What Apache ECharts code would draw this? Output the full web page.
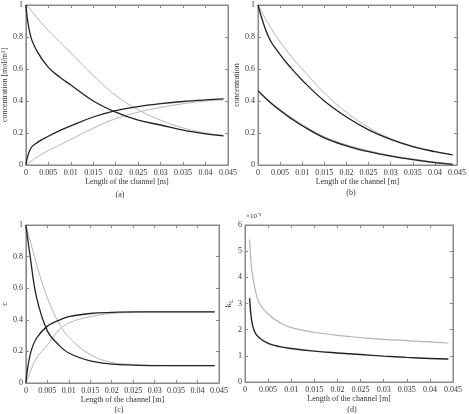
<!DOCTYPE html>
<html>
<head>
<meta charset="utf-8">
<script src="https://cdn.jsdelivr.net/npm/echarts@6/dist/echarts.min.js"></script>
<style>
  html, body { margin: 0; padding: 0; background: #fff; }
  #chart { width: 469px; height: 414px; }
</style>
</head>
<body>
<div id="chart"></div>
<script>
// (a) concentrations along the channel
var xA = [0, 0.001, 0.0025, 0.005, 0.0075, 0.01, 0.015, 0.02, 0.025, 0.03, 0.035, 0.04, 0.044];
var aDarkDec = [1, 0.81, 0.71, 0.61, 0.55, 0.50, 0.40, 0.33, 0.28, 0.25, 0.218, 0.195, 0.182];
var aLightDec = [1, 0.97, 0.92, 0.84, 0.77, 0.70, 0.56, 0.435, 0.345, 0.28, 0.232, 0.2, 0.186];
var aDarkInc = [0, 0.10, 0.14, 0.18, 0.215, 0.245, 0.30, 0.34, 0.365, 0.383, 0.397, 0.407, 0.413];
var aLightInc = [0, 0.02, 0.05, 0.09, 0.125, 0.16, 0.23, 0.29, 0.33, 0.36, 0.383, 0.40, 0.407];

// (b)
var xB = [0, 0.0024, 0.005, 0.0075, 0.01, 0.015, 0.02, 0.025, 0.03, 0.035, 0.04, 0.044];
var bDarkUp = [1, 0.80, 0.69, 0.605, 0.53, 0.40, 0.30, 0.22, 0.16, 0.115, 0.083, 0.063];
var bLightUp = [1, 0.88, 0.77, 0.68, 0.60, 0.45, 0.33, 0.235, 0.165, 0.118, 0.085, 0.064];
var bDarkLow = [0.465, 0.40, 0.34, 0.29, 0.245, 0.17, 0.12, 0.083, 0.055, 0.033, 0.015, 0.004];
var bLightLow = [0.465, 0.40, 0.345, 0.295, 0.25, 0.175, 0.125, 0.087, 0.058, 0.035, 0.017, 0.005];

// (c)
var xC = [0, 0.001, 0.0025, 0.005, 0.0075, 0.01, 0.015, 0.02, 0.025, 0.03, 0.035, 0.04, 0.044];
var cDarkDec = [1, 0.80, 0.54, 0.33, 0.245, 0.19, 0.14, 0.12, 0.113, 0.11, 0.11, 0.11, 0.11];
var cLightDec = [1, 0.90, 0.75, 0.54, 0.39, 0.29, 0.18, 0.13, 0.117, 0.112, 0.11, 0.11, 0.11];
var cDarkInc = [0, 0.18, 0.285, 0.36, 0.395, 0.42, 0.44, 0.447, 0.45, 0.45, 0.45, 0.45, 0.45];
var cLightInc = [0, 0.07, 0.16, 0.24, 0.33, 0.38, 0.42, 0.44, 0.447, 0.45, 0.45, 0.45, 0.45];

// (d) kL, x10^-3
var xD = [0.001, 0.0014, 0.002, 0.003, 0.005, 0.0075, 0.01, 0.015, 0.02, 0.025, 0.03, 0.035, 0.04, 0.044];
var dLight = [5.45, 4.4, 3.7, 3.05, 2.6, 2.27, 2.08, 1.9, 1.78, 1.7, 1.63, 1.58, 1.53, 1.49];
var dDark = [3.2, 2.4, 1.95, 1.7, 1.48, 1.35, 1.28, 1.18, 1.11, 1.05, 0.99, 0.94, 0.9, 0.88];

var xTicks = ['0', '0.005', '0.01', '0.015', '0.02', '0.025', '0.03', '0.035', '0.04', '0.045'];

var FONT = 'Liberation Serif';
var DARK = '#222';
var LIGHT = '#b4b4b4';

var grids = [
  { left: 22, top: 5, width: 206, height: 160 },
  { left: 258, top: 5, width: 204, height: 160 },
  { left: 12, top: 225, width: 207, height: 158 },
  { left: 245, top: 225, width: 208, height: 157 }
];

function pairs(xs, ys) {
  return xs.map(function (x, i) { return [x, ys[i]]; });
}

var xAxes = [], yAxes = [];
var yCfg = [
  { max: 1, interval: 0.2, name: 'concentration [mol/m\u00b3]', gap: 11 },
  { max: 1, interval: 0.2, name: 'concentration', gap: 11 },
  { max: 1, interval: 0.2, name: 'c', gap: 6 },
  { max: 6, interval: 1, name: '{k|k}{s|L}', gap: 8 }
];
grids.forEach(function (g, i) {
  var common = {
    gridIndex: i, type: 'value', min: 0,
    axisLine: { show: true, onZero: false, lineStyle: { color: '#888', width: 1 } },
    axisTick: { show: true, inside: true, length: 3, lineStyle: { color: '#888' } },
    splitLine: { show: false }
  };
  xAxes.push(Object.assign({}, common, {
    position: 'bottom', max: 0.045, interval: 0.005,
    axisLabel: {
      fontFamily: FONT, fontSize: 8, color: '#333', margin: 4,
      formatter: function (v) { return xTicks[Math.round(v / 0.005)]; }
    },
    name: 'Length of the channel [m]', nameLocation: 'middle', nameGap: 13,
    nameTextStyle: { fontFamily: FONT, fontSize: 8, color: '#333' }
  }));
  xAxes.push(Object.assign({}, common, {
    position: 'top', max: 0.045, interval: 0.005, axisLabel: { show: false }
  }));
  var c = yCfg[i];
  yAxes.push(Object.assign({}, common, {
    position: 'left', max: c.max, interval: c.interval,
    axisLabel: {
      fontFamily: FONT, fontSize: 8, color: '#333', margin: 3,
      formatter: function (v) { return String(+v.toFixed(2)); }
    },
    name: c.name, nameLocation: 'middle', nameGap: c.gap,
    nameTextStyle: {
      fontFamily: FONT, fontSize: 8, color: '#333',
      rich: {
        k: { fontFamily: FONT, fontSize: 9, color: '#333' },
        s: { fontFamily: FONT, fontSize: 6, color: '#333', verticalAlign: 'bottom', padding: [4, 0, 0, 0] }
      }
    }
  }));
  yAxes.push(Object.assign({}, common, {
    position: 'right', max: c.max, interval: c.interval, axisLabel: { show: false }
  }));
});

function line(idx, xs, ys, color, w) {
  return {
    type: 'line', xAxisIndex: idx * 2, yAxisIndex: idx * 2,
    data: pairs(xs, ys), showSymbol: false, smooth: 0.4,
    lineStyle: { color: color, width: w }, silent: true, z: color === DARK ? 3 : 2
  };
}

var series = [
  line(0, xA, aLightDec, LIGHT, 1), line(0, xA, aLightInc, LIGHT, 1),
  line(0, xA, aDarkDec, DARK, 1.3), line(0, xA, aDarkInc, DARK, 1.3),
  line(1, xB, bLightUp, LIGHT, 1), line(1, xB, bLightLow, LIGHT, 1.6),
  line(1, xB, bDarkUp, DARK, 1.3), line(1, xB, bDarkLow, DARK, 1.3),
  line(2, xC, cLightDec, LIGHT, 1), line(2, xC, cLightInc, LIGHT, 1),
  line(2, xC, cDarkDec, DARK, 1.3), line(2, xC, cDarkInc, DARK, 1.3),
  line(3, xD, dLight, LIGHT, 1.2), line(3, xD, dDark, DARK, 1.4)
];

function caption(text, x, y) {
  return {
    type: 'text', x: x, y: y,
    style: { text: text, fontFamily: FONT, fontSize: 8, fill: '#333', textAlign: 'center', textVerticalAlign: 'middle' }
  };
}

var chart = echarts.init(document.getElementById('chart'));
chart.setOption({
  animation: false,
  backgroundColor: '#fff',
  grid: grids.map(function (g) {
    return Object.assign({ show: true, borderColor: '#888', borderWidth: 1, containLabel: false }, g);
  }),
  xAxis: xAxes,
  yAxis: yAxes,
  series: series,
  graphic: [
    caption('(a)', 120, 195),
    caption('(b)', 351, 193),
    caption('(c)', 119, 410),
    caption('(d)', 352, 410),
    { type: 'text', x: 246, y: 213, style: { text: '\u00d710\u207b\u00b3', fontFamily: FONT, fontSize: 7, fill: '#333' } }
  ]
});
</script>
</body>
</html>
